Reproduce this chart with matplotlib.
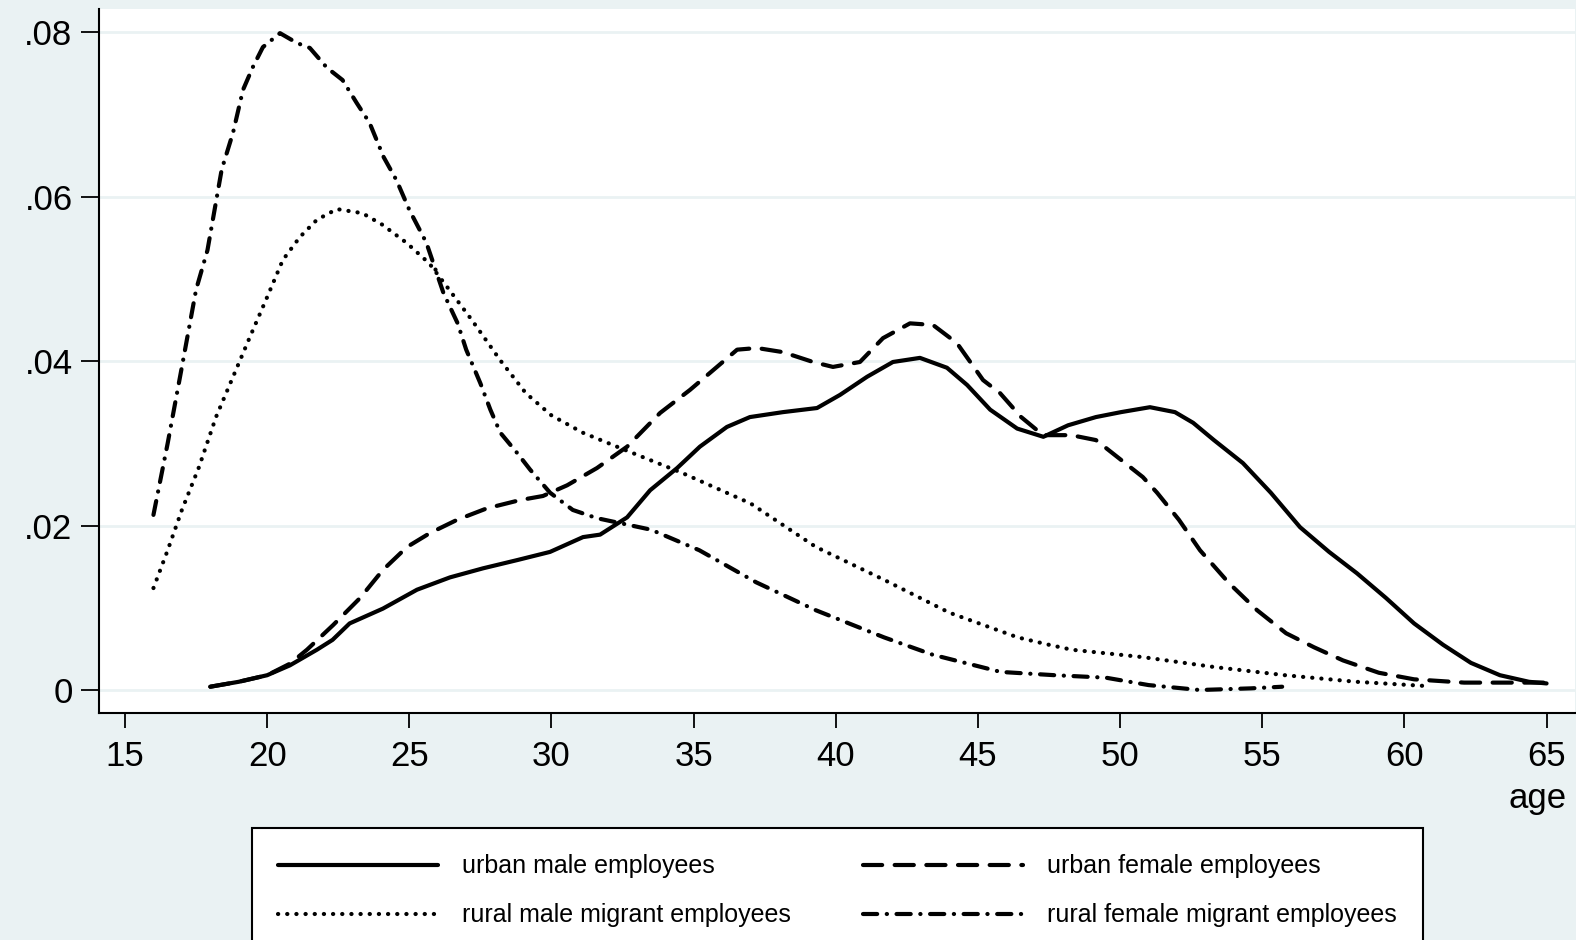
import matplotlib
matplotlib.use('Agg')
import matplotlib.pyplot as plt

plt.rcParams['font.family'] = ['Liberation Sans', 'DejaVu Sans']

# kernel density of age
um_age = [18, 19, 20, 20.8, 21.75, 22.3, 22.9, 24.07, 25.27, 26.43, 27.59, 28.79, 29.95, 31.11,
          31.71, 32.66, 33.47, 34.42, 35.22, 36.17, 36.98, 38.14, 39.34, 40.15, 41.1, 42.01, 42.96,
          43.91, 44.62, 45.43, 46.38, 47.3, 48.17, 49.15, 50.03, 51.05, 51.93, 52.57, 53.3, 54.32,
          55.3, 56.33, 57.35, 58.33, 59.35, 60.34, 61.36, 62.34, 63.36, 64.38, 65]
um_den = [0.0004, 0.001, 0.0018, 0.003, 0.0049, 0.0061, 0.0081, 0.0099, 0.0122, 0.0137, 0.0148,
          0.0158, 0.0168, 0.0186, 0.0189, 0.021, 0.0243, 0.027, 0.0296, 0.032, 0.0332, 0.0338,
          0.0343, 0.0359, 0.0381, 0.0399, 0.0404, 0.0392, 0.0371, 0.0341, 0.0318, 0.0308, 0.0322,
          0.0332, 0.0338, 0.0344, 0.0338, 0.0325, 0.0304, 0.0276, 0.024, 0.0198, 0.0168, 0.0142,
          0.0112, 0.0081, 0.0055, 0.0033, 0.0018, 0.001, 0.0008]

uf_age = [18, 19, 20, 20.8, 21.4, 22.32, 23.27, 24.07, 24.92, 25.73, 26.68, 27.73, 28.89, 29.7,
          30.55, 31.6, 32.66, 33.82, 34.87, 35.82, 36.53, 37.23, 38.14, 39.2, 39.9, 40.85, 41.66,
          42.61, 43.42, 44.26, 45.18, 45.78, 46.52, 47.29, 48.28, 49.15, 50.03, 50.8, 51.3, 52.07,
          52.81, 53.83, 54.82, 55.84, 56.82, 57.84, 59.1, 60.34, 62.1, 63.5, 65.2]
uf_den = [0.0004, 0.001, 0.0018, 0.0032, 0.0049, 0.0079, 0.0112, 0.0146, 0.0174, 0.0191, 0.0207,
          0.0221, 0.0231, 0.0236, 0.0249, 0.027, 0.0296, 0.0337, 0.0365, 0.0393, 0.0414, 0.0416,
          0.0411, 0.0399, 0.0393, 0.0399, 0.0428, 0.0446, 0.0444, 0.0422, 0.0377, 0.0361, 0.0332,
          0.031, 0.031, 0.0304, 0.028, 0.0259, 0.024, 0.0207, 0.017, 0.013, 0.0097, 0.0069, 0.0052,
          0.0036, 0.0021, 0.0013, 0.0009, 0.0009, 0.0009]

rm_age = [16, 16.5, 17, 17.6, 18.2, 18.8, 19.4, 20, 20.55, 21.15, 21.75, 22.45, 23.35, 24.05,
          24.9, 25.7, 26.4, 27.2, 28.2, 29.1, 30, 31.1, 32.3, 34.6, 37, 39.3, 41.7, 44, 46.4,
          47.5, 48.3, 50.8, 53.3, 55.8, 58.3, 60.7]
rm_den = [0.0124, 0.017, 0.0219, 0.0271, 0.0332, 0.0381, 0.043, 0.0478, 0.0523, 0.0551, 0.0572,
          0.0585, 0.058, 0.0566, 0.0544, 0.0519, 0.0487, 0.045, 0.0401, 0.0361, 0.0334, 0.0313,
          0.0296, 0.0264, 0.0227, 0.0174, 0.0134, 0.0094, 0.0064, 0.0055, 0.0049, 0.004, 0.0028,
          0.0018, 0.001, 0.0005]

rf_age = [16, 16.5, 17, 17.5, 17.9, 18.15, 18.4, 18.8, 19.15, 19.5, 19.85, 20.45, 21.05, 21.5,
          22.1, 22.65, 23.15, 23.6, 24.1, 24.55, 25.0, 25.6, 26.2, 26.7, 27.0, 27.5, 27.85, 28.2,
          28.8, 29.25, 29.95, 30.75, 31.6, 33.5, 35.2, 37.2, 39.3, 41.7, 43.4, 45.8, 47.7, 49.5,
          51, 52.8, 54.6, 55.7]
rf_den = [0.0213, 0.03, 0.0393, 0.0487, 0.0535, 0.0584, 0.0633, 0.0678, 0.073, 0.0758, 0.0782,
          0.0799, 0.0787, 0.0781, 0.0757, 0.0742, 0.0714, 0.069, 0.0648, 0.062, 0.0584, 0.0544,
          0.0483, 0.0446, 0.0414, 0.0373, 0.0341, 0.0313, 0.0288, 0.0268, 0.024, 0.0219, 0.0209,
          0.0195, 0.017, 0.0131, 0.0097, 0.0064, 0.0043, 0.0022, 0.0018, 0.0015, 0.0006, 0.0,
          0.0002, 0.0004]

x_ticks = [15, 20, 25, 30, 35, 40, 45, 50, 55, 60, 65]
y_ticks = [0, 0.02, 0.04, 0.06, 0.08]
y_labels = ['0', '.02', '.04', '.06', '.08']

BG = '#EAF2F3'
LW = 3.0

fig = plt.figure(figsize=(15.76, 9.4), dpi=100, facecolor=BG)
ax = fig.add_axes([99 / 1576, 1 - 712.7 / 940, (1575 - 99) / 1576, (712.7 - 9.3) / 940])
ax.set_facecolor('white')

l1, = ax.plot(um_age, um_den, color='black', lw=LW, solid_capstyle='round',
              label='urban male employees')
l2, = ax.plot(uf_age, uf_den, color='black', lw=LW, dash_capstyle='round',
              linestyle=(0, (4.6, 3.0)), label='urban female employees')
l3, = ax.plot(rm_age, rm_den, color='black', lw=LW, dash_capstyle='round',
              linestyle=(0, (0.05, 2.15)), label='rural male migrant employees')
l4, = ax.plot(rf_age, rf_den, color='black', lw=LW, dash_capstyle='round',
              linestyle=(0, (3.4, 2.3, 0.05, 2.3)), label='rural female migrant employees')

ax.set_xlim(14.085, 66.0)
ax.set_ylim(-0.00276, 0.0828)
ax.set_xticks(x_ticks)
ax.set_yticks(y_ticks)
ax.set_yticklabels(y_labels)
ax.grid(axis='y', color=BG, lw=2)
ax.set_axisbelow(True)

for s in ['top', 'right']:
    ax.spines[s].set_visible(False)
for s in ['left', 'bottom']:
    ax.spines[s].set_linewidth(1.5)

ax.tick_params(axis='y', length=13, width=1.3, pad=6, labelsize=25)
ax.tick_params(axis='x', length=11, width=1.3, pad=9, labelsize=25)

ax.set_xlabel('age', fontsize=25, ha='right')
ax.xaxis.set_label_coords(0.9946, -0.098)

leg = fig.legend(handles=[l1, l3, l2, l4], ncol=2, loc='upper left',
                 bbox_to_anchor=(252 / 1576, 1 - 828 / 940), fontsize=18,
                 frameon=True, fancybox=False, edgecolor='black', framealpha=1,
                 borderpad=1.05, labelspacing=1.0, handlelength=6.4,
                 handletextpad=0.95, columnspacing=2.9, borderaxespad=0)
leg.get_frame().set_linewidth(1.5)

fig.savefig('out.png', dpi=100, facecolor=BG)
